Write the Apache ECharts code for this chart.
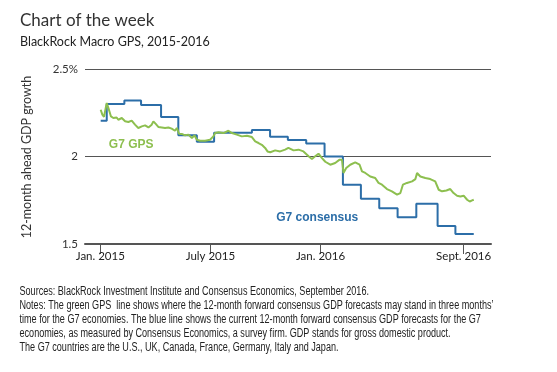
<!DOCTYPE html>
<html><head><meta charset="utf-8">
<script src="https://cdn.jsdelivr.net/npm/echarts@6/dist/echarts.min.js"></script>
<style>html,body{margin:0;padding:0;background:#fff}#c{width:557px;height:372px}</style>
</head><body><div id="c"></div>
<script>
// x = months since Jan. 2015
const consensusX = [0.02, 0.35, 1.31, 2.22, 3.31, 4.25, 5.26, 6.2, 8.26, 9.25, 10.22, 11.22, 12.22, 13.22, 14.2, 15.2, 16.2, 17.22, 18.38, 19.35, 20.35];
const consensusY = [2.205, 2.30, 2.32, 2.295, 2.226, 2.122, 2.085, 2.136, 2.151, 2.113, 2.094, 2.074, 2.0, 1.839, 1.759, 1.705, 1.653, 1.730, 1.603, 1.557, 1.557];

const gpsX = [0.02,0.11,0.2,0.35,0.44,0.58,0.71,0.89,0.98,1.17,1.35,1.53,1.71,1.89,2.07,2.26,2.44,2.62,2.80,2.89,3.02,3.16,3.35,3.53,3.71,3.89,4.07,4.17,4.29,4.44,4.62,4.80,4.99,5.13,5.26,5.44,5.71,5.98,6.16,6.26,6.44,6.71,6.98,7.17,7.44,7.71,7.99,8.26,8.44,8.62,8.80,8.98,9.11,9.26,9.53,9.80,10.07,10.25,10.53,10.80,11.07,11.35,11.53,11.71,11.89,12.08,12.26,12.53,12.80,13.04,13.17,13.25,13.40,13.62,13.89,14.13,14.26,14.44,14.71,14.98,15.16,15.35,15.62,15.89,16.17,16.35,16.49,16.71,16.99,17.17,17.26,17.44,17.71,17.98,18.25,18.44,18.62,18.86,19.07,19.25,19.44,19.62,19.80,19.99,20.13,20.26,20.35];
const gpsY = [2.267,2.239,2.227,2.306,2.277,2.229,2.220,2.223,2.210,2.220,2.201,2.197,2.205,2.182,2.163,2.172,2.178,2.166,2.182,2.201,2.186,2.169,2.166,2.163,2.166,2.159,2.147,2.163,2.130,2.129,2.121,2.125,2.106,2.121,2.096,2.090,2.090,2.096,2.115,2.134,2.138,2.134,2.147,2.134,2.125,2.115,2.119,2.111,2.086,2.077,2.067,2.049,2.029,2.024,2.035,2.029,2.039,2.049,2.035,2.039,2.029,2.001,1.986,2.001,2.016,1.991,1.970,1.953,1.963,1.982,1.982,1.906,1.934,1.953,1.966,1.953,1.915,1.906,1.886,1.877,1.849,1.839,1.814,1.801,1.782,1.791,1.839,1.849,1.858,1.871,1.906,1.886,1.877,1.871,1.858,1.810,1.801,1.806,1.814,1.791,1.776,1.772,1.776,1.753,1.743,1.749,1.753];

const xTickPos = [0, 6, 12, 19.8];
const xTickLabels = ['Jan. 2015', 'July 2015', 'Jan. 2016', 'Sept. 2016'];
const yTickVals = [1.5, 2, 2.5];
const yTickLabels = ['1.5', '2', '2.5%'];

const titleText = 'Chart of the week';
const subtitleText = 'BlackRock Macro GPS, 2015-2016';
const yAxisTitle = '12-month ahead GDP growth';
const seriesNames = ['G7 consensus', 'G7 GPS'];
const labelGPS = {text: 'G7 GPS', x: 1.68, y: 2.067};
const labelCons = {text: 'G7 consensus', x: 11.82, y: 1.65};
const noteLines = [
  'Sources: BlackRock Investment Institute and Consensus Economics, September 2016.',
  'Notes: The green GPS  line shows where the 12-month forward consensus GDP forecasts may stand in three months\u2019',
  'time for the G7 economies. The blue line shows the current 12-month forward consensus GDP forecasts for the G7',
  'economies, as measured by Consensus Economics, a survey firm. GDP stands for gross domestic product.',
  'The G7 countries are the U.S., UK, Canada, France, Germany, Italy and Japan.'
];

const BLUE = '#2c6ea8', GREEN = '#8dbf4f';
const NOTE_FONT = '12px "Liberation Sans"';
const chart = echarts.init(document.getElementById('c'), null, {renderer: 'canvas'});

// condense the notes font horizontally to match the narrow typeface
const mctx = document.createElement('canvas').getContext('2d');
mctx.font = NOTE_FONT;
const noteScale = 474 / mctx.measureText(noteLines[1]).width;

chart.setOption({
  animation: false,
  grid: {left: 85, right: 66, top: 69, bottom: 128, outerBoundsMode: 'none'},
  xAxis: {
    type: 'value', min: -0.835, max: 21.29,
    axisLine: {show: true, lineStyle: {color: '#555', width: 2}},
    axisTick: {show: true, customValues: xTickPos, length: 10, lineStyle: {color: '#555', width: 1}},
    axisLabel: {customValues: xTickPos, color: '#222', fontFamily: 'Lato', fontSize: 11.5, margin: 6,
      formatter: v => { const i = xTickPos.findIndex(p => Math.abs(p - v) < 1e-6); return i >= 0 ? xTickLabels[i] : ''; }},
    splitLine: {show: false}
  },
  yAxis: {
    type: 'value', min: 1.5, max: 2.5, interval: 0.5,
    axisLine: {show: false}, axisTick: {show: false},
    axisLabel: {color: '#333', fontFamily: 'Lato', fontSize: 11.5, margin: 7, padding: [0, 0, 3, 0],
      formatter: v => { const i = yTickVals.findIndex(p => Math.abs(p - v) < 1e-6); return i >= 0 ? yTickLabels[i] : ''; }},
    splitLine: {show: true, lineStyle: {color: '#555', width: 1}}
  },
  series: [
    {name: seriesNames[0], type: 'line', step: 'end', showSymbol: false, symbol: 'none',
     data: consensusX.map((x, i) => [x, consensusY[i]]),
     lineStyle: {color: BLUE, width: 2}, itemStyle: {color: BLUE}},
    {name: seriesNames[1], type: 'line', showSymbol: false, symbol: 'none',
     data: gpsX.map((x, i) => [x, gpsY[i]]),
     lineStyle: {color: GREEN, width: 2}, itemStyle: {color: GREEN}}
  ]
});

const pG = chart.convertToPixel({gridIndex: 0}, [labelGPS.x, labelGPS.y]);
const pC = chart.convertToPixel({gridIndex: 0}, [labelCons.x, labelCons.y]);
const graphics = [
  {type: 'text', left: 20, top: 12, style: {text: titleText, font: '17px Lato', fill: '#333'}},
  {type: 'text', left: 20, top: 35, style: {text: subtitleText, font: '12.5px Lato', fill: '#222'}},
  {type: 'text', x: 27, y: 157, rotation: Math.PI / 2,
   style: {text: yAxisTitle, font: '12.5px Lato', fill: '#333', align: 'center', verticalAlign: 'middle'}},
  {type: 'text', x: pG[0], y: pG[1], style: {text: labelGPS.text, font: 'bold 12px "Liberation Sans"', fill: GREEN, align: 'center', verticalAlign: 'middle'}},
  {type: 'text', x: pC[0], y: pC[1], style: {text: labelCons.text, font: 'bold 12px "Liberation Sans"', fill: BLUE, align: 'center', verticalAlign: 'middle'}}
];
noteLines.forEach((t, i) => {
  graphics.push({type: 'text', x: 19.5, y: 292 + i * 13.9, scaleX: noteScale,
    style: {text: t, font: NOTE_FONT, fill: '#222', verticalAlign: 'middle'}});
});
chart.setOption({graphic: graphics});
</script></body></html>
